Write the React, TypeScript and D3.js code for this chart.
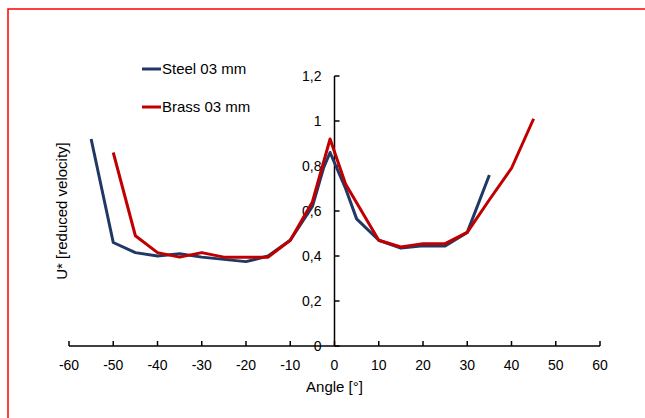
import React, { useEffect, useRef } from 'react';
import * as d3 from 'd3';

// angles in degrees, U* values
const steelAngles = [-55, -50, -45, -40, -35, -30, -25, -20, -15, -10, -5, -2.5, -1, 2.5, 5, 10, 15, 20, 25, 30, 35];
const steelValues = [0.92, 0.46, 0.415, 0.40, 0.41, 0.395, 0.385, 0.375, 0.40, 0.47, 0.62, 0.79, 0.86, 0.70, 0.565, 0.47, 0.435, 0.445, 0.445, 0.505, 0.76];

const brassAngles = [-50, -45, -40, -35, -30, -25, -20, -15, -10, -5, -1, 2.5, 4, 10, 15, 20, 25, 30, 35, 40, 45];
const brassValues = [0.86, 0.49, 0.415, 0.395, 0.415, 0.395, 0.395, 0.395, 0.47, 0.64, 0.92, 0.72, 0.67, 0.47, 0.44, 0.455, 0.455, 0.505, 0.65, 0.79, 1.01];

const xTicks = [-60, -50, -40, -30, -20, -10, 0, 10, 20, 30, 40, 50, 60];
const yTicks = [0, 0.2, 0.4, 0.6, 0.8, 1, 1.2];

const seriesNames = ['Steel 03 mm', 'Brass 03 mm'];
const seriesColors = ['#203864', '#C00000'];

const App = () => {
  const ref = useRef<SVGSVGElement>(null);

  useEffect(() => {
    const svg = d3.select(ref.current);
    svg.selectAll('*').remove();

    const width = 645;
    const height = 418;
    const font = 'Liberation Sans, Arial, sans-serif';

    const x = d3.scaleLinear().domain([-60, 60]).range([69, 600]);
    const y = d3.scaleLinear().domain([0, 1.2]).range([346, 76]);

    // red frame
    svg.append('rect')
      .attr('x', 8).attr('y', 9)
      .attr('width', width).attr('height', height)
      .attr('fill', 'none')
      .attr('stroke', '#FF0000')
      .attr('stroke-width', 1.5);

    // x axis
    const xAxis = svg.append('g').attr('transform', `translate(0,${y(0)})`);
    xAxis.append('line')
      .attr('x1', x(-60)).attr('x2', x(60))
      .attr('stroke', '#000').attr('stroke-width', 1.5);
    xAxis.selectAll('.xt').data(xTicks).enter().append('line')
      .attr('x1', d => x(d)).attr('x2', d => x(d))
      .attr('y1', 0).attr('y2', -5)
      .attr('stroke', '#000').attr('stroke-width', 1.5);
    xAxis.selectAll('.xl').data(xTicks).enter().append('text')
      .attr('x', d => x(d)).attr('y', 24)
      .attr('text-anchor', 'middle')
      .attr('font-family', font).attr('font-size', 14)
      .text(d => String(d));

    // y axis, crossing at angle 0
    const yAxis = svg.append('g').attr('transform', `translate(${x(0)},0)`);
    yAxis.append('line')
      .attr('y1', y(0)).attr('y2', y(1.2))
      .attr('stroke', '#000').attr('stroke-width', 1.5);
    yAxis.selectAll('.yt').data(yTicks).enter().append('line')
      .attr('x1', 0).attr('x2', 5)
      .attr('y1', d => y(d)).attr('y2', d => y(d))
      .attr('stroke', '#000').attr('stroke-width', 1.5);
    yAxis.selectAll('.yl').data(yTicks).enter().append('text')
      .attr('x', -13).attr('y', d => y(d) + 5)
      .attr('text-anchor', 'end')
      .attr('font-family', font).attr('font-size', 14)
      .text(d => String(d).replace('.', ','));

    // axis titles
    svg.append('text')
      .attr('x', x(0)).attr('y', 392)
      .attr('text-anchor', 'middle')
      .attr('font-family', font).attr('font-size', 15)
      .text('Angle [°]');
    svg.append('text')
      .attr('transform', `translate(67,${(y(0) + y(1.2)) / 2}) rotate(-90)`)
      .attr('text-anchor', 'middle')
      .attr('font-family', font).attr('font-size', 15)
      .text('U* [reduced velocity]');

    // lines
    const line = d3.line<[number, number]>()
      .x(d => x(d[0]))
      .y(d => y(d[1]));

    const series: [number, number][][] = [
      steelAngles.map((a, i) => [a, steelValues[i]]),
      brassAngles.map((a, i) => [a, brassValues[i]]),
    ];

    series.forEach((pts, i) => {
      svg.append('path')
        .attr('d', line(pts) as string)
        .attr('fill', 'none')
        .attr('stroke', seriesColors[i])
        .attr('stroke-width', 3)
        .attr('stroke-linejoin', 'round');
    });

    // legend
    seriesNames.forEach((name, i) => {
      const ly = 69 + i * 38;
      svg.append('line')
        .attr('x1', 142).attr('x2', 161)
        .attr('y1', ly).attr('y2', ly)
        .attr('stroke', seriesColors[i]).attr('stroke-width', 3);
      svg.append('text')
        .attr('x', 162).attr('y', ly + 5)
        .attr('font-family', font).attr('font-size', 15)
        .text(name);
    });
  }, []);

  return (
    <svg
      ref={ref}
      width={645}
      height={418}
      style={{ position: 'absolute', left: 0, top: 0, background: '#fff' }}
    />
  );
};

export default App;
